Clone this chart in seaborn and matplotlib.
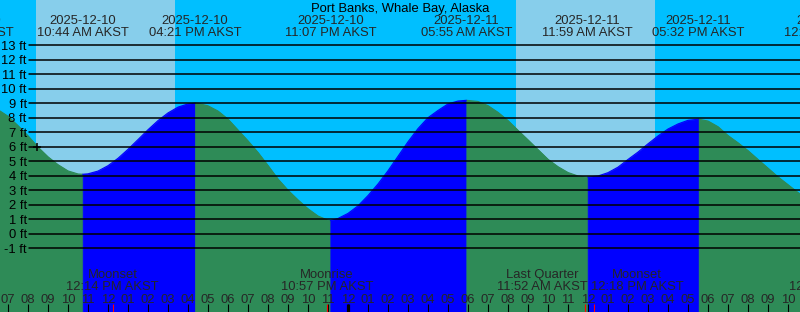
import numpy as np
import pandas as pd
import matplotlib
matplotlib.use("Agg")
import matplotlib.pyplot as plt
import matplotlib.transforms as mtrans
import seaborn as sns

# ---------------- data (hours since 2025-12-10 00:00 AKST) ----------------
station = "Port Banks, Whale Bay, Alaska"

hours = [6, 6.5, 7, 7.5, 8, 8.5, 9, 9.5, 10, 10.5, 10.733,
         11, 11.5, 12, 12.5, 13, 13.5, 14, 14.5, 15, 15.5, 16, 16.35,
         16.5, 17, 17.5, 18, 18.5, 19, 19.5, 20, 20.5, 21, 21.5, 22, 22.5, 23, 23.117,
         23.5, 24, 24.5, 25, 25.5, 26, 26.5, 27, 27.5, 28, 28.5, 29, 29.5, 29.917,
         30, 30.5, 31, 31.5, 32, 32.5, 33, 33.5, 34, 34.5, 35, 35.5, 35.983,
         36, 36.5, 37, 37.5, 38, 38.5, 39, 39.5, 40, 40.5, 41, 41.533,
         42, 42.5, 43, 43.5, 44, 44.5, 45, 45.5, 46, 46.5, 47]
heights = [8.85, 8.55, 8.1, 7.45, 6.75, 5.97, 5.3, 4.76, 4.33, 4.12, 4.1,
           4.13, 4.32, 4.69, 5.2, 5.82, 6.49, 7.17, 7.8, 8.33, 8.73, 8.95, 9.0,
           8.99, 8.82, 8.46, 7.9, 7.15, 6.4, 5.6, 4.7, 3.77, 3.0, 2.33, 1.72, 1.22, 0.93, 0.9,
           1.05, 1.4, 1.92, 2.63, 3.43, 4.34, 5.34, 6.34, 7.25, 8.0, 8.5, 8.95, 9.15, 9.2,
           9.19, 9.12, 8.83, 8.37, 7.8, 7.13, 6.47, 5.8, 5.13, 4.62, 4.22, 3.98, 3.9,
           3.91, 3.98, 4.21, 4.59, 5.12, 5.63, 6.2, 6.74, 7.22, 7.57, 7.82, 7.9,
           7.77, 7.38, 6.77, 6.27, 5.73, 5.12, 4.52, 3.92, 3.38, 2.84, 2.35]

tide_times = [5.0, 10.733, 16.35, 23.117, 29.917, 35.983, 41.533, 48.1]
tide_dates = ["2025-12-10", "2025-12-10", "2025-12-10", "2025-12-10",
              "2025-12-11", "2025-12-11", "2025-12-11", "2025-12-12"]
tide_clock = ["05:00 AM AKST", "10:44 AM AKST", "04:21 PM AKST", "11:07 PM AKST",
              "05:55 AM AKST", "11:59 AM AKST", "05:32 PM AKST", "12:06 AM AKST"]

moon_times = [12.233, 22.95, 35.867, 36.3, 48.35]
moon_names = ["Moonset", "Moonrise", "Last Quarter", "Moonset", "Moonrise"]
moon_clock = ["12:14 PM AKST", "10:57 PM AKST", "11:52 AM AKST", "12:18 PM AKST", "12:21 AM AKST"]

sunrise_times = [8.4, 32.4]
sunset_times = [15.35, 39.35]

ft_levels = list(range(-1, 14))
ft_labels = [f"{v} ft" for v in ft_levels]

hour_ticks = list(range(6, 48))
hour_labels = [f"{((hh % 12) or 12):02d}" for hh in hour_ticks]
midnights = [24]

mark_time = [8.45]
mark_height = [6.0]

# ---------------- styling ----------------
NIGHT = "#00BFFF"
DAY = "#87CEEB"
RISE = "#0000FF"
FALL = "#2E8B57"
W, H = 800, 312
XMIN, XMAX = 6.6, 46.6
YMIN, YMAX = -5.4, 16.117
FS = 9.4

sns.set_style("white")
plt.rcParams["font.family"] = ["Liberation Sans", "DejaVu Sans"]

fig = plt.figure(figsize=(W / 100, H / 100), dpi=100)
ax = fig.add_axes([0, 0, 1, 1])
fig.patch.set_facecolor(NIGHT)
ax.add_patch(plt.Rectangle((0, 0), 1, 1, transform=ax.transAxes, color=NIGHT, zorder=0))

for sr, ss in zip(sunrise_times, sunset_times):
    ax.axvspan(sr, ss, color=DAY, lw=0, zorder=1)

# curve split into rising / falling runs
t = np.array(hours)
h = np.array(heights)
d = np.diff(h) > 0
runs = []
start = 0
for i in range(1, len(d)):
    if d[i] != d[i - 1]:
        runs.append((start, i, d[i - 1]))
        start = i
runs.append((start, len(d), d[-1]))

rows = []
for k, (s, e, r) in enumerate(runs):
    for j in range(s, e + 1):
        rows.append({"t": t[j], "h": h[j], "seg": k, "dir": "rising" if r else "falling"})
df = pd.DataFrame(rows)

for k, (s, e, r) in enumerate(runs):
    c = RISE if r else FALL
    ax.fill_between(t[s:e + 1], h[s:e + 1], YMIN - 2, facecolor=c, edgecolor=c,
                    lw=0.5, zorder=2)

sns.lineplot(data=df, x="t", y="h", hue="dir", units="seg", estimator=None,
             palette={"rising": RISE, "falling": FALL}, lw=0.8, legend=False,
             sort=False, ax=ax, zorder=2.5)
ax.set_xlim(XMIN, XMAX)
ax.set_ylim(YMIN, YMAX)
ax.axis("off")

# height grid lines
for v in ft_levels:
    ax.axhline(v, xmin=29.3 / W, xmax=1, color="black", lw=1.1, zorder=3)

tr_ylab = mtrans.blended_transform_factory(ax.transAxes, ax.transData)
px_ft = H / (YMAX - YMIN)
for v, lab in zip(ft_levels, ft_labels):
    ax.text(26.7 / W, v - 4.7 / px_ft, lab, transform=tr_ylab, ha="right",
            va="baseline", fontsize=FS, color="black", zorder=5)

tr = mtrans.blended_transform_factory(ax.transData, ax.transAxes)


def py(p):
    return 1 - p / H


# title and tide labels
ax.text(0.5, py(12), station, transform=ax.transAxes, ha="center", va="baseline",
        fontsize=FS, color="black", zorder=5)
for tt, dd, cc in zip(tide_times, tide_dates, tide_clock):
    ax.text(tt, py(24), dd, transform=tr, ha="center", va="baseline", fontsize=FS, zorder=5)
    ax.text(tt, py(36), cc, transform=tr, ha="center", va="baseline", fontsize=FS, zorder=5)

# moon labels, spread apart if they collide
px_per_hr = W / (XMAX - XMIN)
pos = [m for m in moon_times]
gap = 95 / px_per_hr
for i in range(len(pos) - 1):
    dist = pos[i + 1] - pos[i]
    if dist < gap:
        shift = (gap - dist) / 2
        pos[i] -= shift
        pos[i + 1] += shift
for p, nm, cc in zip(pos, moon_names, moon_clock):
    ax.text(p, py(277.7), nm, transform=tr, ha="center", va="baseline", fontsize=FS, zorder=5)
    ax.text(p, py(290), cc, transform=tr, ha="center", va="baseline", fontsize=FS, zorder=5)

# hour labels and ticks
for hh, lab in zip(hour_ticks, hour_labels):
    ax.text(hh, py(302.7), lab, transform=tr, ha="center", va="baseline", fontsize=FS, zorder=5)
ax.vlines(hour_ticks, 0, py(304), transform=tr, color="black", lw=0.8, zorder=4)
ax.vlines(midnights, 0, py(304), transform=tr, color="black", lw=2.3, zorder=4)
ax.vlines(moon_times, 0, py(304), transform=tr, color="red", lw=0.8, zorder=4)

ax.plot(mark_time, mark_height, marker="+", ms=6, mew=1.1, color="black", ls="none", zorder=6)

fig.savefig("out.png", dpi=100, facecolor=NIGHT)
